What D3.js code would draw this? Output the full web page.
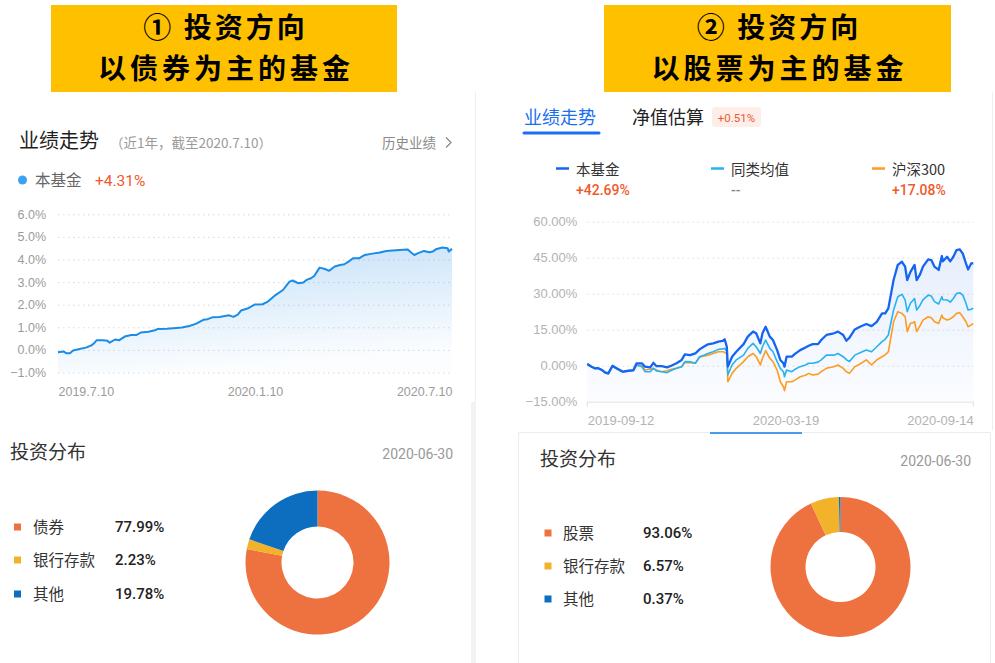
<!DOCTYPE html>
<html><head><meta charset="utf-8">
<script src="https://cdn.jsdelivr.net/npm/d3@7"></script>
<style>
html,body{margin:0;padding:0;background:#fff;}
svg{display:block;font-family:Roboto,"Noto Sans CJK SC",sans-serif;}
</style></head>
<body>
<svg id="c" width="995" height="663"></svg>
<script>
// ---------- DATA ----------
const headerLeft = ["① 投资方向", "以债券为主的基金"];
const headerRight = ["② 投资方向", "以股票为主的基金"];

// Left: bond fund, 1 year to 2020.7.10 (x = days since 2019.7.10, y = return %)
const bondDays = [0,5,8,11,14,20,26,31,33,36,42,46,48,53,57,62,68,73,77,84,90,93,101,110,115,122,128,135,139,144,150,159,163,167,170,176,183,190,195,201,209,215,218,223,228,231,235,238,243,248,252,257,262,266,271,274,280,285,292,299,305,311,317,325,328,331,334,340,345,348,351,357,362,363,366];
const bondReturn = [-0.1,-0.07,-0.15,-0.15,-0.03,0.04,0.1,0.2,0.27,0.43,0.43,0.4,0.32,0.46,0.43,0.59,0.66,0.66,0.77,0.8,0.87,0.93,0.94,0.97,0.99,1.06,1.15,1.33,1.36,1.45,1.46,1.53,1.46,1.56,1.74,1.83,2.01,2.02,2.14,2.39,2.65,3.02,3.07,2.95,2.98,3.1,3.17,3.27,3.64,3.58,3.5,3.69,3.76,3.79,3.94,4.06,4.06,4.2,4.26,4.31,4.38,4.4,4.42,4.44,4.31,4.2,4.27,4.38,4.32,4.35,4.45,4.53,4.5,4.35,4.47];
const bondYTicks = [-1,0,1,2,3,4,5,6];
const bondXLabels = ["2019.7.10","2020.1.10","2020.7.10"];
const bondXLabelDays = [0,183,366];

// Right: equity fund (x = days since 2019-09-12, y = return %)
const eqDays = [0,4,7,10,14,17,20,24,28,31,34,39,44,47,52,55,60,63,66,71,76,80,85,90,93,98,103,107,111,115,120,125,129,131,133,134,138,142,149,153,158,161,165,167,170,174,177,181,184,187,188,190,195,198,203,208,211,215,220,223,228,235,239,244,247,250,255,260,266,271,276,281,284,287,292,296,300,303,305,308,311,312,314,317,320,325,328,331,335,338,339,343,346,349,352,355,358,361,363,366,368];
const fundReturn = [0.7,-0.4,-1.1,-1.0,-1.8,-2.8,-3.2,0.0,-1.1,-1.8,-2.5,-2.1,-1.8,1.0,1.0,-0.4,-0.7,1.2,-0.2,-0.2,-0.7,0.0,1.0,2.4,4.7,4.4,5.1,6.8,7.9,8.9,9.3,10.0,10.3,11.0,7.9,-0.4,3.75,5.8,9.0,12.1,14.2,13.5,9.3,13.5,16.25,12.1,10.7,6.5,2.4,1.0,-0.4,3.75,3.75,4.9,6.5,7.6,8.3,9.0,9.0,10.7,12.8,13.5,14.2,12.8,10.4,11.7,15.1,16.25,17.4,16.5,18.3,21.8,21.8,23.9,35.7,42.0,43.3,41.25,35.7,39.0,41.25,42.0,35.7,37.8,41.25,44.3,44.0,41.25,39.9,45.7,43.5,45.4,43.5,45.4,48.2,48.5,46.7,42.6,40.1,42.6,42.69];
const peerReturn = [0.7,-0.4,-1.1,-1.0,-1.8,-3.0,-3.3,-0.3,-1.3,-2.0,-2.6,-2.3,-2.0,0.3,-0.4,-2.5,-2.5,-1.1,-2.2,-2.5,-2.9,-2.0,-1.1,-0.4,1.7,1.6,1.0,3.75,4.4,5.1,5.8,6.8,7.0,7.2,6.0,-3.9,0.3,2.4,4.4,7.2,9.3,7.9,5.1,7.9,10.7,7.2,5.8,1.7,-1.1,-2.5,-4.6,-1.8,-2.5,-1.5,-0.4,0.3,1.0,1.0,1.5,2.4,4.4,4.4,5.1,3.75,2.5,1.7,4.4,5.4,6.5,5.8,7.9,10.0,11.0,12.8,23.2,28.75,29.7,27.4,22.5,26.0,27.5,28.0,23.2,25.0,27.4,29.4,29.0,26.7,25.7,28.75,27.5,27.4,26.5,28.0,30.1,30.4,29.4,26.0,23.2,23.5,23.9];
const csi300Return = [0.7,-0.4,-1.1,-1.0,-1.8,-3.0,-3.3,-0.3,-1.3,-2.0,-2.6,-2.3,-2.0,0.3,0.0,-1.8,-1.5,-1.1,-1.8,-2.5,-2.1,-1.5,-1.1,-0.4,1.25,1.3,1.0,3.5,4.0,4.4,5.1,5.8,5.8,5.6,4.8,-6.7,-3.2,-1.1,1.7,3.75,5.1,3.75,0.3,3.1,6.25,3.1,1.7,-1.8,-6.7,-8.75,-10.4,-6.7,-6.7,-6.0,-4.6,-4.0,-3.2,-3.9,-3.5,-2.5,-1.1,-0.4,0.3,-1.1,-2.5,-3.2,-0.4,0.7,2.4,0.3,2.4,3.75,4.5,5.8,18.3,22.5,21.8,20.4,14.2,17.6,18.0,18.3,14.2,16.5,19.0,20.4,20.0,18.3,17.6,21.1,20.0,19.0,19.5,20.4,21.8,22.1,20.4,18.3,16.25,17.0,17.6];
const eqYTicks = [-15,0,15,30,45,60];
const eqXLabels = ["2019-09-12","2020-03-19","2020-09-14"];
const eqXLabelDays = [0,189,368];
const eqLegendNames = ["本基金","同类均值","沪深300"];
const eqLegendValues = ["+42.69%","--","+17.08%"];

// Allocation donuts
const bondAllocLabels = ["债券","银行存款","其他"];
const bondAllocValues = [77.99,2.23,19.78];
const eqAllocLabels = ["股票","银行存款","其他"];
const eqAllocValues = [93.06,6.57,0.37];

// ---------- STYLE ----------
const RED = "#f0592b";
const pieColors = ["#ee7240","#f2b22a","#0d6ebf"];
const eqColors = ["#1565f2","#27b2f0","#ff9b1e"];

const svg = d3.select("#c");
const defs = svg.append("defs");

// ---------- HEADERS ----------
function header(x0, x1, lines){
  const g = svg.append("g");
  g.append("rect").attr("x",x0).attr("y",5).attr("width",x1-x0).attr("height",87).attr("fill","#ffc000");
  const cx = (x0+x1)/2;
  g.append("text").attr("x",cx+1.5).attr("y",38).attr("text-anchor","middle")
    .attr("font-size",28).attr("font-weight",700).attr("fill","#000").attr("letter-spacing",3)
    .style("font-family",'"Noto Sans CJK SC",sans-serif').text(lines[0]);
  g.append("text").attr("x",cx+2).attr("y",79).attr("text-anchor","middle")
    .attr("font-size",28).attr("font-weight",700).attr("fill","#000").attr("letter-spacing",4)
    .style("font-family",'"Noto Sans CJK SC",sans-serif').text(lines[1]);
}
header(51,397,headerLeft);
header(604,951,headerRight);

// dividers / card borders
svg.append("line").attr("x1",475.5).attr("x2",475.5).attr("y1",92).attr("y2",402).attr("stroke","#eeeeee");
svg.append("rect").attr("x",471).attr("y",402).attr("width",5).attr("height",261).attr("fill","#f3f3f3");
svg.append("line").attr("x1",992.5).attr("x2",992.5).attr("y1",92).attr("y2",430).attr("stroke","#eeeeee");
svg.append("path").attr("d","M518.5,663V432.5H990.5V663").attr("fill","none").attr("stroke","#ececec");

// ---------- LEFT: line chart ----------
const L = svg.append("g");
L.append("text").attr("x",19).attr("y",148).attr("font-size",20).attr("fill","#1f1f1f")
  .style("font-family",'"Noto Sans CJK SC",sans-serif').text("业绩走势");
L.append("text").attr("x",110).attr("y",148).attr("font-size",13.5).attr("fill","#9a9a9a")
  .style("font-family",'"Noto Sans CJK SC",sans-serif').text("（近1年，截至2020.7.10）");
L.append("text").attr("x",382).attr("y",148).attr("font-size",13.5).attr("fill","#8a8a8a")
  .style("font-family",'"Noto Sans CJK SC",sans-serif').text("历史业绩");
L.append("path").attr("d","M446,137.5l5,5l-5,5").attr("fill","none").attr("stroke","#8a8a8a").attr("stroke-width",1.3);
L.append("circle").attr("cx",22.5).attr("cy",180).attr("r",4.5).attr("fill","#3aa3f5");
L.append("text").attr("x",35).attr("y",186).attr("font-size",15.5).attr("fill","#666")
  .style("font-family",'"Noto Sans CJK SC",sans-serif').text("本基金");
L.append("text").attr("x",95).attr("y",186).attr("font-size",15.5).attr("fill",RED).text("+4.31%");

const xL = d3.scaleLinear().domain([0,366]).range([58,452]);
const yL = d3.scaleLinear().domain([-1,6]).range([372.5,214.3]);

const yAxL = d3.axisLeft(yL).tickValues(bondYTicks).tickFormat(d=>d3.format(".1f")(d)+"%")
  .tickSize(-(452-58)).tickPadding(12);
const gyL = L.append("g").attr("transform","translate(58,0)").call(yAxL);
gyL.select(".domain").remove();
gyL.selectAll("line").attr("stroke","#d9d9d9").attr("stroke-dasharray","1.5,3.5");
gyL.selectAll("text").attr("fill","#9b9b9b").attr("font-size",12.5);

const gradL = defs.append("linearGradient").attr("id","gL").attr("x1",0).attr("y1",0).attr("x2",0.25).attr("y2",1);
gradL.append("stop").attr("offset","0%").attr("stop-color","#2a8fe6").attr("stop-opacity",0.28);
gradL.append("stop").attr("offset","100%").attr("stop-color","#2a8fe6").attr("stop-opacity",0.02);

const bondData = bondDays.map((d,i)=>[d,bondReturn[i]]);
L.append("path").datum(bondData).attr("fill","url(#gL)")
  .attr("d",d3.area().x(d=>xL(d[0])).y0(yL(-1)).y1(d=>yL(d[1])));
L.append("path").datum(bondData).attr("fill","none").attr("stroke","#1a8be6").attr("stroke-width",2)
  .attr("stroke-linejoin","round").attr("d",d3.line().x(d=>xL(d[0])).y(d=>yL(d[1])));

const xAxL = d3.axisBottom(xL).tickValues(bondXLabelDays).tickFormat((d,i)=>bondXLabels[i]).tickSize(0).tickPadding(15);
const gxL = L.append("g").attr("transform",`translate(0,${yL(-1)})`).call(xAxL);
gxL.select(".domain").remove();
gxL.selectAll("text").attr("fill","#9b9b9b").attr("font-size",12.5)
  .attr("text-anchor",(d,i)=>i===0?"start":(i===bondXLabels.length-1?"end":"middle"));

// ---------- RIGHT: line chart ----------
const R = svg.append("g");
R.append("text").attr("x",524).attr("y",124).attr("font-size",18).attr("fill","#1a6ff0")
  .style("font-family",'"Noto Sans CJK SC",sans-serif').text("业绩走势");
R.append("line").attr("x1",524).attr("x2",599).attr("y1",133).attr("y2",133).attr("stroke","#1a6ff0")
  .attr("stroke-width",3).attr("stroke-linecap","round");
R.append("text").attr("x",632).attr("y",124).attr("font-size",18).attr("fill","#222")
  .style("font-family",'"Noto Sans CJK SC",sans-serif').text("净值估算");
R.append("rect").attr("x",712).attr("y",107).attr("width",49).attr("height",20).attr("rx",3).attr("fill","#fdeeea");
R.append("text").attr("x",736.5).attr("y",121.5).attr("text-anchor","middle").attr("font-size",11.5).attr("fill",RED).text("+0.51%");

const legX = [556,711,872];
eqLegendNames.forEach((n,i)=>{
  R.append("line").attr("x1",legX[i]).attr("x2",legX[i]+13).attr("y1",168.5).attr("y2",168.5)
    .attr("stroke",eqColors[i]).attr("stroke-width",2.5);
  R.append("text").attr("x",legX[i]+20).attr("y",175).attr("font-size",14.5).attr("fill","#333")
    .style("font-family",'"Noto Sans CJK SC",sans-serif').text(n);
  R.append("text").attr("x",legX[i]+20).attr("y",195).attr("font-size",14).attr("fill",i===1?"#888":RED)
    .attr("font-weight",500).text(eqLegendValues[i]);
});

const xR = d3.scaleLinear().domain([0,368]).range([587.3,973.3]);
const yR = d3.scaleLinear().domain([-15,60]).range([401.7,221.7]);
const yAxR = d3.axisLeft(yR).tickValues(eqYTicks).tickFormat(d=>d3.format(".2f")(d)+"%")
  .tickSize(-(973.3-587.3)).tickPadding(10);
const gyR = R.append("g").attr("transform","translate(587.3,0)").call(yAxR);
gyR.select(".domain").remove();
gyR.selectAll("line").attr("stroke","#e2e2e2").attr("stroke-dasharray",(d)=>d===-15?null:"2,3");
gyR.selectAll("text").attr("fill","#b3b3b3").attr("font-size",13);
// end ticks on bottom axis
[0,368].forEach(d=>R.append("line").attr("x1",xR(d)).attr("x2",xR(d)).attr("y1",yR(-15)).attr("y2",yR(-15)+5).attr("stroke","#e2e2e2"));

const gradR = defs.append("linearGradient").attr("id","gR").attr("x1",0).attr("y1",0).attr("x2",0).attr("y2",1);
gradR.append("stop").attr("offset","0%").attr("stop-color","#3d7ff0").attr("stop-opacity",0.13);
gradR.append("stop").attr("offset","100%").attr("stop-color","#3d7ff0").attr("stop-opacity",0.02);

const mk = arr => eqDays.map((d,i)=>[d,arr[i]]);
const lineR = d3.line().x(d=>xR(d[0])).y(d=>yR(d[1]));
R.append("path").datum(mk(fundReturn)).attr("fill","url(#gR)")
  .attr("d",d3.area().x(d=>xR(d[0])).y0(yR(-15)).y1(d=>yR(d[1])));
[[csi300Return,2],[peerReturn,1],[fundReturn,0]].forEach(([arr,ci])=>{
  R.append("path").datum(mk(arr)).attr("fill","none").attr("stroke",eqColors[ci])
    .attr("stroke-width",ci===0?2.3:1.6).attr("stroke-linejoin","round").attr("d",lineR);
});
const xAxR = d3.axisBottom(xR).tickValues(eqXLabelDays).tickFormat((d,i)=>eqXLabels[i]).tickSize(0).tickPadding(14);
const gxR = R.append("g").attr("transform",`translate(0,${yR(-15)})`).call(xAxR);
gxR.select(".domain").remove();
gxR.selectAll("text").attr("fill","#b3b3b3").attr("font-size",13)
  .attr("text-anchor",(d,i)=>i===0?"start":(i===eqXLabels.length-1?"end":"middle"));
R.append("line").attr("x1",710).attr("x2",802).attr("y1",433).attr("y2",433).attr("stroke","#4a9be8").attr("stroke-width",2);

// ---------- DONUTS ----------
function allocation(opt){
  const g = svg.append("g");
  g.append("text").attr("x",opt.titleX).attr("y",opt.titleY).attr("font-size",19).attr("fill","#333")
    .style("font-family",'"Noto Sans CJK SC",sans-serif').text("投资分布");
  g.append("text").attr("x",opt.dateX).attr("y",opt.titleY).attr("text-anchor","end").attr("font-size",14).attr("fill","#999").text("2020-06-30");
  opt.labels.forEach((lab,i)=>{
    const cy = opt.rows[i];
    g.append("rect").attr("x",opt.sqX).attr("y",cy-3.5).attr("width",7).attr("height",7).attr("fill",pieColors[i]);
    g.append("text").attr("x",opt.labX).attr("y",cy).attr("dy","0.36em").attr("font-size",15.5).attr("fill","#333")
      .style("font-family",'"Noto Sans CJK SC",sans-serif').text(lab);
    g.append("text").attr("x",opt.pctX).attr("y",cy).attr("dy","0.36em").attr("font-size",15).attr("fill","#222")
      .attr("font-weight",500).text(d3.format(".2f")(opt.values[i])+"%");
  });
  const pie = d3.pie().sort(null).value(d=>d)(opt.values);
  const arc = d3.arc().innerRadius(opt.ri).outerRadius(opt.ro);
  g.append("g").attr("transform",`translate(${opt.cx},${opt.cy})`)
    .selectAll("path").data(pie).join("path").attr("d",arc).attr("fill",(d,i)=>pieColors[i]);
}
allocation({titleX:10,titleY:459,dateX:453,labels:bondAllocLabels,values:bondAllocValues,
  rows:[527,560,594],sqX:14,labX:33,pctX:115,cx:317.5,cy:562.5,ro:72,ri:36});
allocation({titleX:540,titleY:466,dateX:971,labels:eqAllocLabels,values:eqAllocValues,
  rows:[533,566,599],sqX:544.5,labX:563,pctX:643,cx:840.5,cy:567,ro:70,ri:35});
</script>
</body></html>
